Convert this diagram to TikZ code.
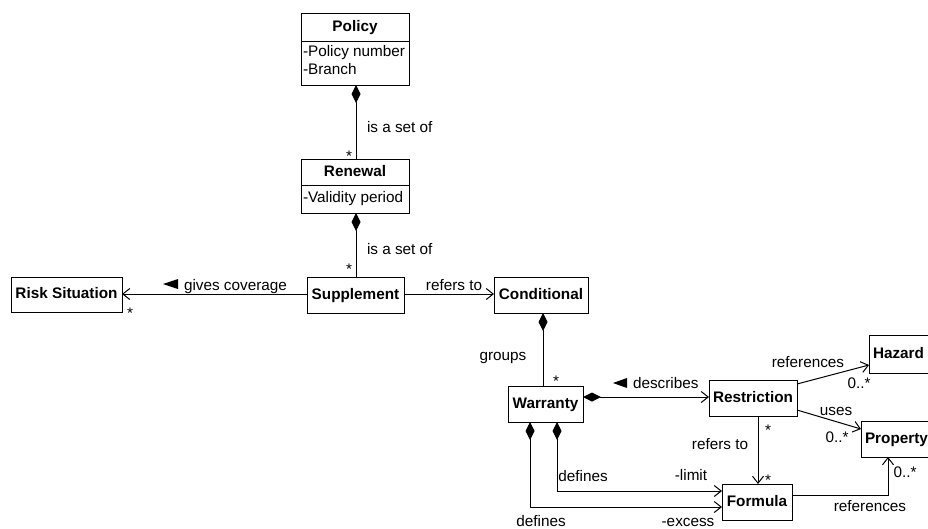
\documentclass[tikz,border=0pt]{standalone}
\usepackage{fontspec}
\setmainfont{Liberation Sans}
\usetikzlibrary{arrows.meta,calc}
\begin{document}
\begin{tikzpicture}[x=1pt,y=-1pt,
  font=\fontsize{15.3}{18}\selectfont,
  every node/.style={inner sep=0pt, outer sep=0pt},
  cls/.style={draw, line width=1pt, font=\fontsize{15.3}{18}\selectfont\bfseries,
    text height=11pt, text depth=3pt},
  lbl/.style={text height=11pt, text depth=3pt},
  edge/.style={line width=1pt},
  comp/.style={edge, {Diamond[length=18pt,width=9pt]}-},
  assoc/.style={edge, -{Straight Barb[length=7pt,width=11pt]}},
  compassoc/.style={edge, {Diamond[length=18pt,width=9pt]}-{Straight Barb[length=7pt,width=11pt]}},
  lefttri/.style={fill=black}
]
\useasboundingbox (0,0) rectangle (928,528);
\clip (0,0) rectangle (928,528);

% ---- classes ----
% Policy (two compartments)
\node[cls, minimum width=108pt, minimum height=72pt] (policy) at (355,49) {};
\node[lbl, font=\fontsize{15.3}{18}\selectfont\bfseries] (policytitle) at (355,27) {Policy};
\draw[edge] ($(policy.north west)+(0,28)$) -- ($(policy.north east)+(0,28)$);
\node[anchor=north west, align=left, font=\fontsize{15.3}{18}\selectfont] (policyattr) at (303,45)
  {-Policy number\\-Branch};

% Renewal (two compartments)
\node[cls, minimum width=108pt, minimum height=54pt] (renewal) at (355,186) {};
\node[lbl, font=\fontsize{15.3}{18}\selectfont\bfseries] (renewaltitle) at (355,172) {Renewal};
\draw[edge] ($(renewal.north west)+(0,26)$) -- ($(renewal.north east)+(0,26)$);
\node[lbl, anchor=west] (renewalattr) at (303,198) {-Validity period};

\node[cls, minimum width=97pt, minimum height=36pt] (supplement) at (355.5,295) {Supplement};
\node[cls, minimum width=111pt, minimum height=35pt] (risk) at (66.5,294.5) {Risk Situation};
\node[cls, minimum width=94pt, minimum height=36pt] (conditional) at (541,295) {Conditional};
\node[cls, minimum width=75pt, minimum height=36pt] (warranty) at (545.5,404) {Warranty};
\node[cls, minimum width=88pt, minimum height=36pt] (restriction) at (753,398) {Restriction};
\node[cls, anchor=north west, text width=63pt, inner xsep=4pt, align=left,
  minimum height=38pt] (hazard) at (869,335) {Hazard};
\node[cls, anchor=north west, text width=71pt, inner xsep=4pt, align=left,
  minimum height=36pt] (property) at (861,421) {Property};
\node[cls, minimum width=70pt, minimum height=36pt] (formula) at (757,502) {Formula};

% ---- connectors ----
\draw[comp] (policy.south -| 356,0) -- (renewal.north -| 356,0);
\node[lbl, anchor=west] (l1) at (367,128) {is a set of};
\node[lbl] (m1) at (349,157) {*};

\draw[comp] (renewal.south -| 356,0) -- (supplement.north -| 356,0);
\node[lbl, anchor=west] (l2) at (367,250) {is a set of};
\node[lbl] (m2) at (349,270) {*};

\draw[assoc] (supplement.west |- 0,294) -- (risk.east |- 0,294);
\node[lbl, anchor=west] (l3) at (184,286) {gives coverage};
\fill[lefttri] (163,284) -- (178,279) -- (178,289) -- cycle;
\node[lbl] (m3) at (130,314) {*};

\draw[assoc] (supplement.east |- 0,294) -- (conditional.west |- 0,294);
\node[lbl] (l4) at (454,286) {refers to};

\draw[comp] (conditional.south -| 543,0) -- (warranty.north -| 543,0);
\node[lbl] (l5) at (503,356) {groups};
\node[lbl] (m5) at (556,382) {*};

\draw[compassoc] (warranty.east |- 0,397) -- (restriction.west |- 0,397);
\node[lbl, anchor=west] (l6) at (633,384) {describes};
\fill[lefttri] (613,383) -- (627,378) -- (627,388) -- cycle;

\draw[assoc] (restriction.south -| 758,0) -- (formula.north -| 758,0);
\node[lbl] (l7) at (720,445) {refers to};
\node[lbl] (m7a) at (768,431) {*};
\node[lbl] (m7b) at (768,481) {*};

\draw[assoc] (restriction.east |- 0,384) -- (hazard.west |- 0,365);
\node[lbl] (l8) at (808,363) {references};
\node[lbl] (m8) at (859,384) {0..*};

\draw[assoc] (restriction.east |- 0,410) -- (property.west |- 0,429);
\node[lbl] (l9) at (836,411) {uses};
\node[lbl] (m9) at (837,438) {0..*};

\draw[assoc] (formula.east |- 0,495) -| (property.south -| 888,0);
\node[lbl] (l10) at (870,507) {references};
\node[lbl] (m10) at (905,473) {0..*};

\draw[compassoc] (warranty.south -| 557,0) |- (formula.west |- 0,491);
\node[lbl] (l11) at (583,477) {defines};
\node[lbl] (r11) at (691,476) {-limit};

\draw[compassoc] (warranty.south -| 530,0) |- (formula.west |- 0,507);
\node[lbl] (l12) at (541,522) {defines};
\node[lbl] (r12) at (688,522) {-excess};
\end{tikzpicture}
\end{document}
